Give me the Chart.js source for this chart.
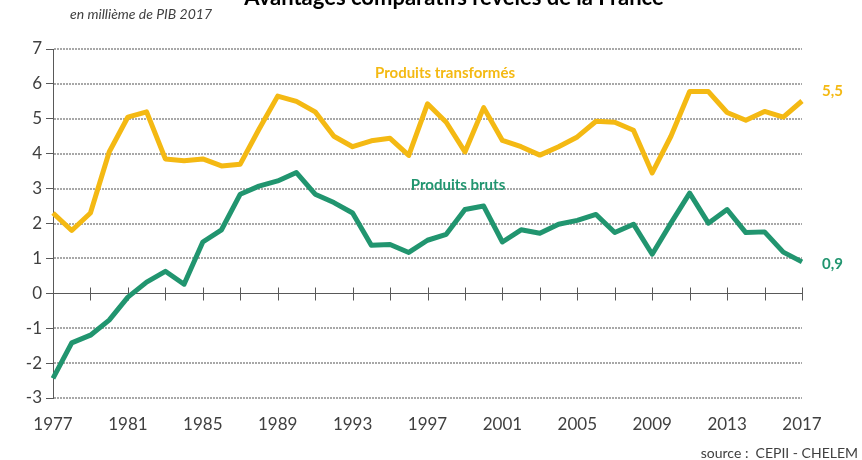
<!DOCTYPE html>
<html>
<head>
<meta charset="utf-8">
<script src="https://cdn.jsdelivr.net/npm/chart.js@4.4.1/dist/chart.umd.min.js"></script>
<style>
  html, body { margin: 0; padding: 0; background: #fff; }
  #wrap { width: 862px; height: 460px; position: relative; }
</style>
</head>
<body>
<div id="wrap"><canvas id="chart" width="862" height="460"></canvas></div>
<script>
// Avantages comparatifs révélés de la France (en millième de PIB 2017)
var years = [];
for (var y = 1977; y <= 2017; y++) years.push(String(y));

var transformes = [2.3, 1.8, 2.3, 4.05, 5.05, 5.2, 3.85, 3.8, 3.85, 3.65,
  3.7, 4.7, 5.65, 5.5, 5.2, 4.5, 4.2, 4.37, 4.44, 3.95,
  5.43, 4.9, 4.05, 5.32, 4.38, 4.2, 3.96, 4.2, 4.48, 4.93,
  4.9, 4.67, 3.45, 4.5, 5.78, 5.78, 5.18, 4.96, 5.21, 5.05, 5.51];

var bruts = [-2.44, -1.42, -1.2, -0.77, -0.11, 0.32, 0.63, 0.26, 1.47, 1.82,
  2.84, 3.07, 3.22, 3.46, 2.84, 2.6, 2.3, 1.38, 1.4, 1.17,
  1.52, 1.69, 2.4, 2.5, 1.47, 1.82, 1.72, 1.98, 2.09, 2.26,
  1.74, 1.98, 1.12, 2.01, 2.87, 2.01, 2.4, 1.74, 1.76, 1.18, 0.9];

var orange = '#F4B913';
var green = '#21956F';
var axisGrey = '#595959';
var textGrey = '#404040';
var gridGrey = '#8c8c8c';
var font = 'Lato, "Open Sans", sans-serif';

// lignes de grille pointillées aux valeurs entières de l'axe y
var dottedGrid = {
  id: 'dottedGrid',
  beforeDatasetsDraw: function (chart) {
    var ctx = chart.ctx;
    var ys = chart.scales.y, area = chart.chartArea;
    ctx.save();
    ctx.strokeStyle = gridGrey;
    ctx.lineWidth = 1.3;
    ctx.setLineDash([2, 1]);
    ctx.beginPath();
    ys.ticks.forEach(function (t) {
      if (t.value === 0) return;
      var py = Math.round(ys.getPixelForValue(t.value));
      ctx.moveTo(area.left + 1, py);
      ctx.lineTo(area.right, py);
    });
    ctx.stroke();
    ctx.restore();
  }
};

// axe horizontal sur la ligne zéro, avec graduations tous les deux ans
var zeroAxis = {
  id: 'zeroAxis',
  beforeDatasetsDraw: function (chart) {
    var ctx = chart.ctx;
    var xs = chart.scales.x, ys = chart.scales.y;
    var y0 = Math.round(ys.getPixelForValue(0)) + 0.5;
    ctx.save();
    ctx.strokeStyle = axisGrey;
    ctx.lineWidth = 1;
    ctx.setLineDash([]);
    ctx.beginPath();
    ctx.moveTo(chart.chartArea.left, y0);
    ctx.lineTo(chart.chartArea.right, y0);
    for (var i = 2; i < years.length; i += 2) {
      var x = Math.round(xs.getPixelForValue(i)) + 0.5;
      ctx.moveTo(x, y0 - 6);
      ctx.lineTo(x, y0 + 7);
    }
    ctx.stroke();
    ctx.restore();
  }
};

var annotations = {
  id: 'annotations',
  afterDraw: function (chart) {
    var ctx = chart.ctx;
    ctx.save();
    ctx.textBaseline = 'alphabetic';
    ctx.fillStyle = '#000';
    ctx.textAlign = 'center';
    ctx.font = 'bold 22px ' + font;
    ctx.fillText('Avantages comparatifs révélés de la France', 454, 5);

    ctx.fillStyle = textGrey;
    ctx.textAlign = 'left';
    ctx.font = 'italic 14px ' + font;
    ctx.fillText('en millième de PIB 2017', 70, 19);

    ctx.textBaseline = 'middle';
    ctx.font = 'bold 15px ' + font;
    ctx.textAlign = 'center';
    ctx.fillStyle = orange;
    ctx.fillText('Produits transformés', 445, 73);
    ctx.fillStyle = green;
    ctx.fillText('Produits bruts', 458, 185);

    ctx.textAlign = 'left';
    ctx.fillStyle = orange;
    ctx.fillText('5,5', 822, 91);
    ctx.fillStyle = green;
    ctx.fillText('0,9', 822, 264);

    ctx.fillStyle = textGrey;
    ctx.font = '14px ' + font;
    ctx.textAlign = 'right';
    ctx.fillText('source :  CEPII - CHELEM', 858, 453);
    ctx.restore();
  }
};

new Chart(document.getElementById('chart'), {
  type: 'line',
  data: {
    labels: years,
    datasets: [
      {
        label: 'Produits transformés',
        data: transformes,
        borderColor: orange,
        borderWidth: 5,
        pointRadius: 0,
        tension: 0,
        borderJoinStyle: 'round'
      },
      {
        label: 'Produits bruts',
        data: bruts,
        borderColor: green,
        borderWidth: 5,
        pointRadius: 0,
        tension: 0,
        borderJoinStyle: 'round'
      }
    ]
  },
  options: {
    responsive: false,
    animation: false,
    layout: { padding: { top: 49, right: 60, left: 0, bottom: 0 } },
    plugins: {
      legend: { display: false },
      title: { display: false },
      tooltip: { enabled: false }
    },
    scales: {
      x: {
        type: 'category',
        offset: false,
        afterFit: function (scale) { scale.height = 62; },
        grid: { display: false, drawTicks: false },
        border: { display: false },
        ticks: {
          autoSkip: false,
          maxRotation: 0,
          padding: 16,
          color: textGrey,
          font: { family: font, size: 17 },
          callback: function (value, index) {
            return index % 4 === 0 ? years[index] : '';
          }
        }
      },
      y: {
        min: -3,
        max: 7,
        afterFit: function (scale) { scale.width = 53; },
        grid: {
          drawOnChartArea: false,
          tickLength: 7,
          tickColor: axisGrey
        },
        border: { display: true, color: axisGrey, width: 1 },
        ticks: {
          stepSize: 1,
          padding: 4,
          color: textGrey,
          font: { family: font, size: 17 },
          callback: function (value) { return String(value); }
        }
      }
    }
  },
  plugins: [dottedGrid, zeroAxis, annotations]
});
</script>
</body>
</html>
